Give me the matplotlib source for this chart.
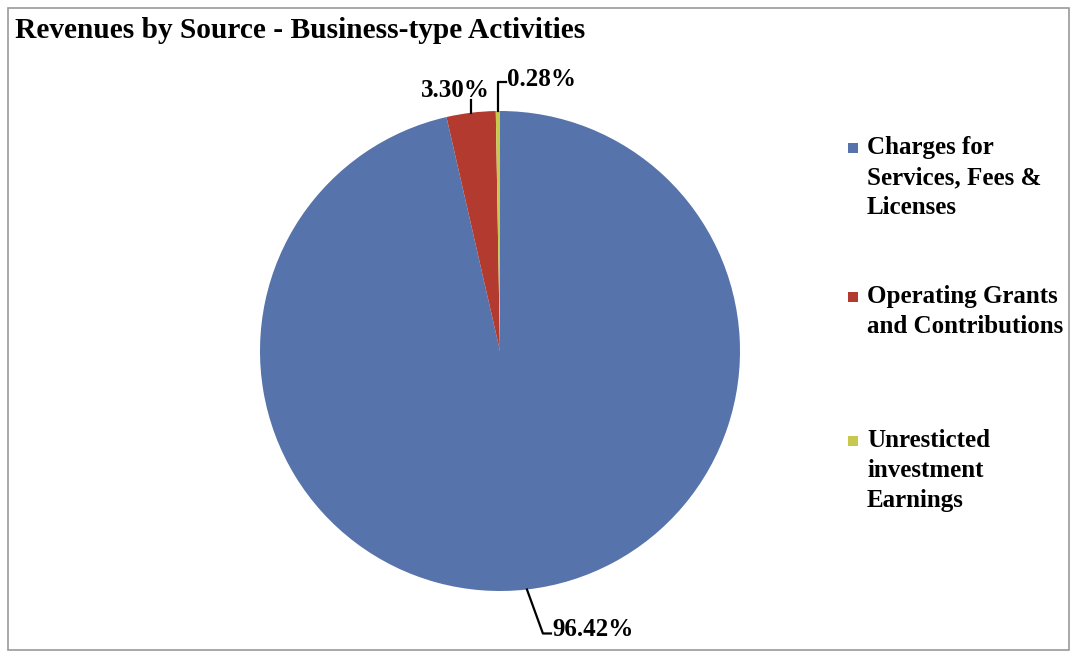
import matplotlib
matplotlib.use("Agg")
import matplotlib.pyplot as plt
from matplotlib.patches import Rectangle
from matplotlib.lines import Line2D
import numpy as np

plt.rcParams['font.family'] = ['Liberation Serif', 'DejaVu Serif']

# data
categories = ["Charges for\nServices, Fees &\nLicenses",
              "Operating Grants\nand Contributions",
              "Unresticted\ninvestment\nEarnings"]
shares = [96.42, 3.30, 0.28]
colors = ["#5773AB", "#B23A2F", "#C8C84E"]
title = "Revenues by Source - Business-type Activities"

W, H = 1073, 655
fig = plt.figure(figsize=(W / 100, H / 100), dpi=100)

# outer frame like the excel chart area
fig.patches.append(Rectangle((8 / W, 5 / H), 1061 / W, 642 / H, transform=fig.transFigure,
                             fill=False, edgecolor="#9a9a9a", linewidth=1.2))

fig.text(15 / W, 1 - 31 / H, title, fontsize=21.2, fontweight="bold", va="center", ha="left")

# pie area, centre ~ (500, 351), r ~ 240 px
ax = fig.add_axes([260 / W, 64 / H, 480 / W, 480 / H])
wedges, _ = ax.pie(shares, colors=colors, startangle=90, counterclock=False,
                   radius=1.0, wedgeprops=dict(linewidth=0))
ax.set_xlim(-1, 1)
ax.set_ylim(-1, 1)
ax.set_aspect("equal")
ax.axis("off")

# leader paths (pixel offsets from wedge edge) and text anchor offsets
leaders = [
    [(0, 0), (16, -44), (24, -44)],   # 96.42%
    [(0, 0), (0, 13)],                # 3.30%
    [(0, 0), (0, 29), (8, 29)],       # 0.28%
]
text_pos = [(25, -40, "left", "center"),
            (-16, 11, "center", "bottom"),
            (9, 32, "left", "center")]

for w, val, path, tp in zip(wedges, shares, leaders, text_pos):
    ang = np.deg2rad((w.theta1 + w.theta2) / 2)
    px, py = ax.transData.transform((np.cos(ang), np.sin(ang)))
    xs = [px + dx for dx, dy in path]
    ys = [py + dy for dx, dy in path]
    fig.lines.append(Line2D(xs, ys, transform=None, color="black", linewidth=1.6))
    fig.text((px + tp[0]) / W, (py + tp[1]) / H, "%.2f%%" % val, fontsize=18,
             fontweight="bold", ha=tp[2], va=tp[3])

# legend, marker aligned to first line like excel
leg_y = [148, 297, 441]
for lab, col, y in zip(categories, colors, leg_y):
    fig.patches.append(Rectangle((848 / W, 1 - (y + 5) / H), 10 / W, 10 / H,
                                 transform=fig.transFigure, facecolor=col, edgecolor="none"))
    fig.text(867 / W, 1 - (y - 12) / H, lab, fontsize=18, fontweight="bold",
             ha="left", va="top", linespacing=1.38)

fig.savefig("out.png", dpi=100)
plt.close(fig)
